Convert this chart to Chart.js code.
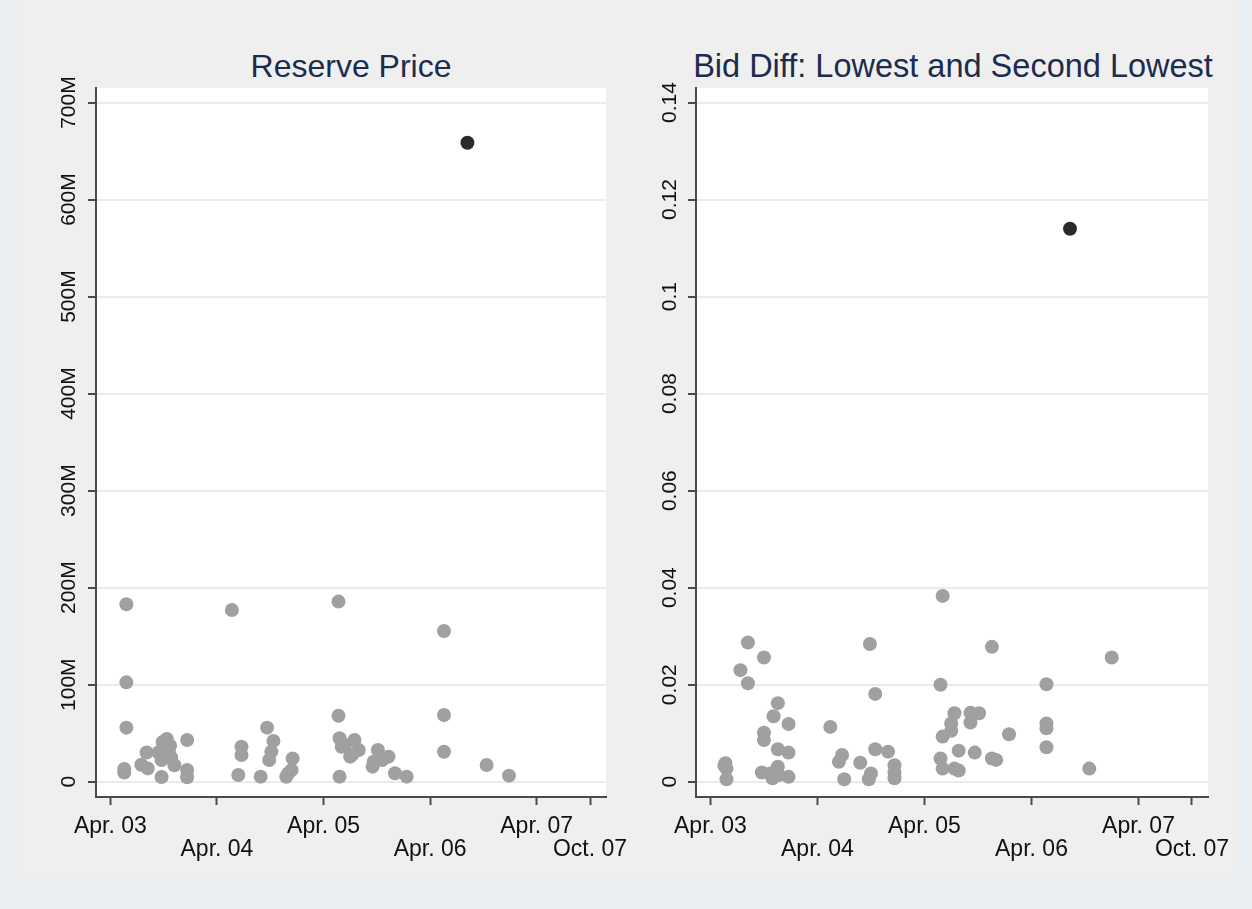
<!DOCTYPE html>
<html>
<head>
<meta charset="utf-8">
<script src="https://cdn.jsdelivr.net/npm/chart.js@4.4.1/dist/chart.umd.min.js"></script>
<style>
    body { margin: 0; width: 1252px; height: 909px; overflow: hidden; background: #e9eff2; font-family: 'Liberation Sans', Arial, sans-serif; }
    #painel { position: absolute; left: 18px; top: 0; width: 1220px; height: 878px; background: #efefef; }
    .titulo { position: absolute; top: 48px; width: 700px; font-size: 32px; line-height: 36px; color: #1d2b4e; text-align: center; white-space: nowrap; }
    canvas { position: absolute; }
</style>
</head>
<body>
<div id="painel"></div>
<div class="titulo" style="left: 1px;">Reserve Price</div>
<div class="titulo" style="left: 603px; font-size: 32.5px;">Bid Diff: Lowest and Second Lowest</div>
<canvas id="graficoReserva" width="620" height="858" style="left: 20px; top: 20px;"></canvas>
<canvas id="graficoDiferenca" width="600" height="858" style="left: 640px; top: 20px;"></canvas>

<script>
// date axis (decimal years)
var dateTickValues = [2003.25, 2004.25, 2005.25, 2006.25, 2007.25, 2007.75];
var dateTickLabels = ['Apr. 03', 'Apr. 04', 'Apr. 05', 'Apr. 06', 'Apr. 07', 'Oct. 07'];

// reserve price, millions
var reserveTickValues = [0, 100, 200, 300, 400, 500, 600, 700];
var reserveTickLabels = ['0', '100M', '200M', '300M', '400M', '500M', '600M', '700M'];

var reserveDates = [
    2003.40, 2003.40, 2003.40, 2003.38, 2003.38, 2003.54, 2003.60, 2003.59,
    2003.75, 2003.73, 2003.73, 2003.74, 2003.78, 2003.77, 2003.80, 2003.82,
    2003.85, 2003.81, 2003.97, 2003.97, 2003.97, 2003.70,
    2004.39, 2004.48, 2004.48, 2004.45, 2004.66, 2004.72, 2004.78, 2004.76,
    2004.74, 2004.96, 2004.92, 2004.95, 2004.90,
    2005.39, 2005.39, 2005.40, 2005.40, 2005.42, 2005.45, 2005.50, 2005.54,
    2005.58, 2005.52, 2005.76, 2005.72, 2005.71, 2005.86, 2005.80, 2005.92,
    2006.03,
    2006.38, 2006.38, 2006.38, 2006.78, 2006.99
];
var reservePrices = [
    182.8, 102.4, 55.7, 13, 9.5, 17.5, 13.7, 30,
    38, 22.4, 4.8, 41, 44, 28, 33, 25,
    17, 37, 43, 12, 4.5, 30,
    177, 36, 27.5, 6.9, 5.2, 55.7, 42, 31,
    22.4, 24, 8.7, 12, 5,
    185.6, 68, 5.2, 44.7, 36, 37.8, 25.8, 43,
    32.7, 28, 32.7, 20.6, 15.5, 25.8, 22.3, 8.7,
    5.2,
    155.3, 68.7, 30.9, 17.2, 6.2
];
var reserveOutlierDates = [2006.60];
var reserveOutlierPrices = [658.5];

// bid difference
var bidTickValues = [0, 0.02, 0.04, 0.06, 0.08, 0.1, 0.12, 0.14];
var bidTickLabels = ['0', '0.02', '0.04', '0.06', '0.08', '0.1', '0.12', '0.14'];

var bidDates = [
    2003.39, 2003.40, 2003.40, 2003.38, 2003.53, 2003.60, 2003.60, 2003.75,
    2003.75, 2003.75, 2003.88, 2003.84, 2003.98, 2003.88, 2003.98,
    2003.73, 2003.81, 2003.83, 2003.88, 2003.89, 2003.98, 2003.86,
    2004.37, 2004.48, 2004.45, 2004.50, 2004.65, 2004.74, 2004.79, 2004.79,
    2004.73, 2004.75, 2004.91, 2004.97, 2004.97, 2004.97,
    2005.42, 2005.40, 2005.53, 2005.50, 2005.50, 2005.42, 2005.40, 2005.42,
    2005.53, 2005.57, 2005.57, 2005.68, 2005.68, 2005.76, 2005.72,
    2005.88, 2005.88, 2005.92, 2006.04,
    2006.39, 2006.39, 2006.39, 2006.39, 2006.79, 2007.00
];
var bidDiffs = [
    0.0038, 0.0027, 0.0005, 0.0033, 0.0230, 0.0287, 0.0203, 0.0256,
    0.0101, 0.0086, 0.0162, 0.0135, 0.0119, 0.0067, 0.0060,
    0.0019, 0.0017, 0.0007, 0.0031, 0.0014, 0.0010, 0.0022,
    0.0113, 0.0055, 0.0041, 0.0005, 0.0039, 0.0284, 0.0181, 0.0067,
    0.0005, 0.0017, 0.0062, 0.0034, 0.0019, 0.0007,
    0.0383, 0.0200, 0.0141, 0.0120, 0.0105, 0.0093, 0.0048, 0.0027,
    0.0027, 0.0023, 0.0064, 0.0142, 0.0122, 0.0141, 0.0060,
    0.0278, 0.0048, 0.0045, 0.0098,
    0.0201, 0.0120, 0.0110, 0.0071, 0.0027, 0.0256
];
var bidOutlierDates = [2006.61];
var bidOutlierDiffs = [0.114];

var fundoBranco = {
    id: 'fundoBranco',
    beforeDraw: function (chart) {
        var area = chart.chartArea;
        var ctx = chart.ctx;
        ctx.save();
        ctx.fillStyle = '#ffffff';
        ctx.fillRect(area.left, area.top, area.right - area.left, area.bottom - area.top);
        ctx.restore();
    }
};

function pontos(xs, ys) {
    return xs.map(function (x, i) { return { x: x, y: ys[i] }; });
}

function criarGrafico(id, cfg) {
    var elemento = document.getElementById(id);

    if (!elemento)
        return;

    var contexto = elemento.getContext('2d');

    new Chart(contexto, {
        type: 'scatter',
        data: {
            datasets: [{
                data: pontos(cfg.datas, cfg.valores),
                backgroundColor: '#a0a0a0',
                borderWidth: 0,
                pointRadius: 7
            }, {
                data: pontos(cfg.datasOut, cfg.valoresOut),
                backgroundColor: '#2b2b2b',
                borderWidth: 0,
                pointRadius: 7
            }]
        },
        options: {
            responsive: false,
            animation: false,
            events: [],
            layout: { padding: { left: 0, top: 68, right: cfg.padDireita, bottom: 0 } },
            scales: {
                x: {
                    type: 'linear',
                    min: 2003.115,
                    max: 2007.9,
                    afterBuildTicks: function (scale) {
                        scale.ticks = dateTickValues.map(function (v) { return { value: v }; });
                    },
                    afterFit: function (scale) { scale.height = 81; },
                    ticks: {
                        autoSkip: false,
                        minRotation: 0,
                        maxRotation: 0,
                        padding: 10,
                        color: '#111111',
                        font: { family: 'Liberation Sans', size: 23, lineHeight: 1.0 },
                        callback: function (v, i) {
                            return i % 2 === 0 ? dateTickLabels[i] : ['', dateTickLabels[i]];
                        }
                    },
                    grid: { drawOnChartArea: false, tickLength: 8, tickColor: '#4a4a4a', tickWidth: 2 },
                    border: { color: '#4a4a4a', width: 2 }
                },
                y: {
                    min: cfg.yMin,
                    max: cfg.yMax,
                    afterBuildTicks: function (scale) {
                        scale.ticks = cfg.yTicks.map(function (v) { return { value: v }; });
                    },
                    afterFit: function (scale) { scale.width = cfg.larguraY; },
                    ticks: {
                        minRotation: 90,
                        maxRotation: 90,
                        crossAlign: 'center',
                        padding: cfg.padY,
                        color: '#111111',
                        font: { family: 'Liberation Sans', size: 21 },
                        callback: function (v, i) { return cfg.yLabels[i]; }
                    },
                    grid: { color: '#ebebeb', lineWidth: 2, tickLength: 8, tickColor: '#4a4a4a', tickWidth: 2 },
                    border: { color: '#4a4a4a', width: 2 }
                }
            },
            plugins: {
                legend: { display: false },
                tooltip: { enabled: false }
            }
        },
        plugins: [fundoBranco]
    });
}

criarGrafico('graficoReserva', {
    datas: reserveDates, valores: reservePrices,
    datasOut: reserveOutlierDates, valoresOut: reserveOutlierPrices,
    yMin: -15.8, yMax: 715, yTicks: reserveTickValues, yLabels: reserveTickLabels,
    larguraY: 76, padY: -7, padDireita: 34
});

criarGrafico('graficoDiferenca', {
    datas: bidDates, valores: bidDiffs,
    datasOut: bidOutlierDates, valoresOut: bidOutlierDiffs,
    yMin: -0.00315, yMax: 0.143, yTicks: bidTickValues, yLabels: bidTickLabels,
    larguraY: 56, padY: -3, padDireita: 30
});
</script>
</body>
</html>
